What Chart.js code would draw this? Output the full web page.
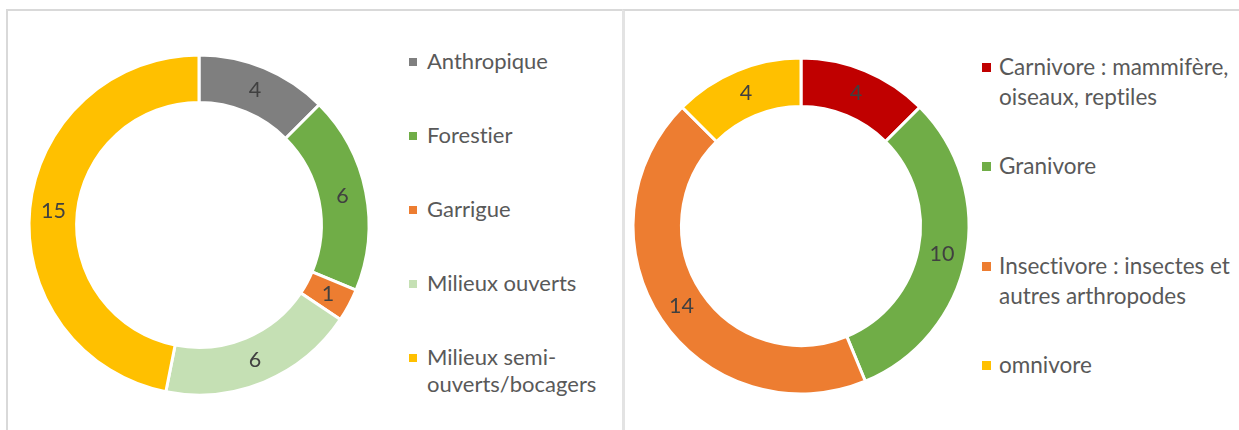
<!DOCTYPE html>
<html>
<head>
<meta charset="utf-8">
<script src="https://cdn.jsdelivr.net/npm/chart.js@4/dist/chart.umd.min.js"></script>
<style>
html,body{margin:0;padding:0;background:#fff;width:1239px;height:430px;overflow:hidden;font-family:Lato,"Open Sans",sans-serif;}
.panel{position:absolute;top:9px;height:430px;box-sizing:border-box;border-top:2px solid #d9d9d9;}
#p1{left:6px;width:618px;border-left:2px solid #d9d9d9;border-right:2px solid #d9d9d9;}
#p2{left:622px;width:630px;border-left:3px solid #e3e3e3;}
canvas{position:absolute;}
#c1{left:19px;top:45px;}
#c2{left:621px;top:46px;}
.legend{position:absolute;color:#595959;font-size:22px;font-variant-ligatures:none;font-feature-settings:"liga" 0,"clig" 0;}
.legend .item{position:relative;}
.legend .mk{position:absolute;left:0;}
.legend .tx{white-space:nowrap;}
#lg1{left:409px;top:47px;}
#lg1 .item{height:74px;line-height:27px;}
#lg1 .mk{width:8px;height:8px;top:11px;}
#lg1 .tx{margin-left:18px;}
#lg2{left:982px;top:52px;}
#lg2 .item{height:99.3px;line-height:30px;}
#lg2 .mk{width:9px;height:9px;top:11px;}
#lg2 .tx{margin-left:17px;font-size:22.5px;}
</style>
</head>
<body>
<div class="panel" id="p1"></div>
<div class="panel" id="p2"></div>
<canvas id="c1" width="360" height="360"></canvas>
<canvas id="c2" width="360" height="360"></canvas>
<div class="legend" id="lg1"></div>
<div class="legend" id="lg2"></div>
<script>
// Chart 1 : milieux
const habitatLabels = ["Anthropique", "Forestier", "Garrigue", "Milieux ouverts", ["Milieux semi-", "ouverts/bocagers"]];
const habitatValues = [4, 6, 1, 6, 15];
const habitatColors = ["#7F7F7F", "#70AD47", "#ED7D31", "#C5E0B4", "#FFC000"];

// Chart 2 : régime alimentaire
const dietLabels = [["Carnivore : mammifère,", "oiseaux, reptiles"], "Granivore", ["Insectivore : insectes et", "autres arthropodes"], "omnivore"];
const dietValues = [4, 10, 14, 4];
const dietColors = ["#C00000", "#70AD47", "#ED7D31", "#FFC000"];

const dataLabelPlugin = {
  id: 'valueLabels',
  afterDatasetsDraw(chart) {
    const ctx = chart.ctx;
    const meta = chart.getDatasetMeta(0);
    const vals = chart.data.datasets[0].data;
    ctx.save();
    ctx.font = '21.5px Lato, "Open Sans", sans-serif';
    ctx.fillStyle = '#404040';
    ctx.textAlign = 'center';
    ctx.textBaseline = 'middle';
    meta.data.forEach((arc, i) => {
      const p = arc.tooltipPosition();
      ctx.fillText(String(vals[i]), p.x, p.y);
    });
    ctx.restore();
  }
};

function makeDonut(id, labels, values, colors, radius, cutout) {
  return new Chart(document.getElementById(id), {
    type: 'doughnut',
    data: {
      labels: labels,
      datasets: [{
        data: values,
        backgroundColor: colors,
        borderColor: '#ffffff',
        borderWidth: 3,
        radius: radius,
        cutout: cutout
      }]
    },
    options: {
      responsive: false,
      devicePixelRatio: 1,
      animation: false,
      layout: { padding: 0 },
      plugins: { legend: { display: false }, tooltip: { enabled: false } }
    },
    plugins: [dataLabelPlugin]
  });
}

function buildLegend(elId, chart) {
  const el = document.getElementById(elId);
  const ds = chart.data.datasets[0];
  chart.data.labels.forEach((lab, i) => {
    const item = document.createElement('div');
    item.className = 'item';
    const mk = document.createElement('div');
    mk.className = 'mk';
    mk.style.background = ds.backgroundColor[i];
    const tx = document.createElement('div');
    tx.className = 'tx';
    const lines = Array.isArray(lab) ? lab : [lab];
    lines.forEach((ln, j) => {
      if (j > 0) tx.appendChild(document.createElement('br'));
      tx.appendChild(document.createTextNode(ln));
    });
    item.appendChild(mk);
    item.appendChild(tx);
    el.appendChild(item);
  });
}

const chart1 = makeDonut('c1', habitatLabels, habitatValues, habitatColors, 170, 128.5);
const chart2 = makeDonut('c2', dietLabels, dietValues, dietColors, 168, 127);
buildLegend('lg1', chart1);
buildLegend('lg2', chart2);
</script>
</body>
</html>
